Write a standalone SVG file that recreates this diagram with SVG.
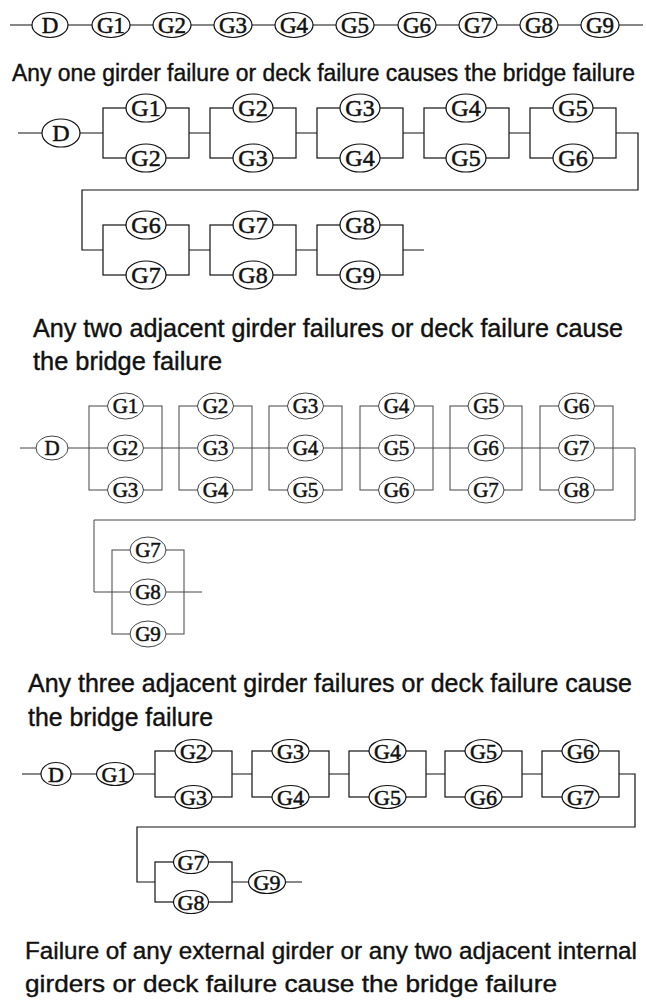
<svg xmlns="http://www.w3.org/2000/svg" width="646" height="1006" viewBox="0 0 646 1006">
<style>
.bg{fill:#fff}
.ln{fill:none;stroke:#111;stroke-width:1.2}
.ln3{fill:none;stroke:#444;stroke-width:1}
.el{fill:#fff;stroke:#111;stroke-width:1.2}
.el3{fill:#fff;stroke:#444;stroke-width:1}
.lb{font-family:"Liberation Serif","Times New Roman",serif;text-anchor:middle;fill:#111;stroke:#111;stroke-width:0.5}
.s1{font-size:23px}
.s2{font-size:24px}
.s3{font-size:21px}
.s4{font-size:22px}
.hd{font-family:"Liberation Sans",Arial,sans-serif;fill:#111;stroke:#111;stroke-width:0.4}
</style>
<rect class="bg" x="0" y="0" width="646" height="1006"/>

<!-- connectors -->
<g id="connectors">
  <!-- section 1 -->
  <path class="ln" d="M10 25 H643"/>
  <!-- section 2 -->
  <path class="ln" d="M18 133 H103 M189 133 H210 M296 133 H317 M403 133 H424 M509 133 H530 M616 133 H638 V190 H82 V250 H103 M189 250 H210 M296 250 H317 M403 250 H424"/>
  <rect class="ln" x="103" y="108" width="86" height="50"/>
  <rect class="ln" x="210" y="108" width="86" height="50"/>
  <rect class="ln" x="317" y="108" width="86" height="50"/>
  <rect class="ln" x="424" y="108" width="85" height="50"/>
  <rect class="ln" x="530" y="108" width="86" height="50"/>
  <rect class="ln" x="103" y="225" width="86" height="50"/>
  <rect class="ln" x="210" y="225" width="86" height="50"/>
  <rect class="ln" x="317" y="225" width="86" height="50"/>
  <!-- section 3 -->
  <path class="ln3" d="M20 448 H635 V520 H94 V592 H202"/>
  <rect class="ln3" x="89" y="406" width="73" height="84"/>
  <rect class="ln3" x="179" y="406" width="73" height="84"/>
  <rect class="ln3" x="269" y="406" width="73" height="84"/>
  <rect class="ln3" x="360" y="406" width="73" height="84"/>
  <rect class="ln3" x="450" y="406" width="72" height="84"/>
  <rect class="ln3" x="540" y="406" width="73" height="84"/>
  <rect class="ln3" x="112" y="550" width="72" height="84"/>
  <!-- section 4 -->
  <path class="ln" d="M22 774 H155 M232 774 H252 M329 774 H349 M426 774 H445 M522 774 H542 M619 774 H635 V827 H137 V882 H155 M232 882 H302"/>
  <rect class="ln" x="155" y="751" width="77" height="46"/>
  <rect class="ln" x="252" y="751" width="77" height="46"/>
  <rect class="ln" x="349" y="751" width="77" height="46"/>
  <rect class="ln" x="445" y="751" width="77" height="46"/>
  <rect class="ln" x="542" y="751" width="77" height="46"/>
  <rect class="ln" x="155" y="862" width="77" height="40"/>
</g>

<!-- section 1 nodes -->
<g id="s1-D"><ellipse class="el" cx="50" cy="25" rx="18" ry="12.5"/><text class="lb s1" x="50" y="33">D</text></g>
<g id="s1-G1"><ellipse class="el" cx="111" cy="25" rx="19" ry="12.5"/><text class="lb s1" x="111" y="33">G1</text></g>
<g id="s1-G2"><ellipse class="el" cx="172" cy="25" rx="19" ry="12.5"/><text class="lb s1" x="172" y="33">G2</text></g>
<g id="s1-G3"><ellipse class="el" cx="233" cy="25" rx="19" ry="12.5"/><text class="lb s1" x="233" y="33">G3</text></g>
<g id="s1-G4"><ellipse class="el" cx="294" cy="25" rx="19" ry="12.5"/><text class="lb s1" x="294" y="33">G4</text></g>
<g id="s1-G5"><ellipse class="el" cx="355" cy="25" rx="19" ry="12.5"/><text class="lb s1" x="355" y="33">G5</text></g>
<g id="s1-G6"><ellipse class="el" cx="417" cy="25" rx="19" ry="12.5"/><text class="lb s1" x="417" y="33">G6</text></g>
<g id="s1-G7"><ellipse class="el" cx="478" cy="25" rx="19" ry="12.5"/><text class="lb s1" x="478" y="33">G7</text></g>
<g id="s1-G8"><ellipse class="el" cx="539" cy="25" rx="19" ry="12.5"/><text class="lb s1" x="539" y="33">G8</text></g>
<g id="s1-G9"><ellipse class="el" cx="600" cy="25" rx="19" ry="12.5"/><text class="lb s1" x="600" y="33">G9</text></g>

<text class="hd" x="12" y="81" font-size="23" textLength="623" lengthAdjust="spacingAndGlyphs">Any one girder failure or deck failure causes the bridge failure</text>

<!-- section 2 nodes -->
<g id="s2-D"><ellipse class="el" cx="61" cy="133" rx="19" ry="14"/><text class="lb s2" x="61" y="141">D</text></g>
<g id="s2-b1-G1"><ellipse class="el" cx="146" cy="108" rx="20" ry="14"/><text class="lb s2" x="146" y="116">G1</text></g>
<g id="s2-b1-G2"><ellipse class="el" cx="146" cy="158" rx="20" ry="14"/><text class="lb s2" x="146" y="166">G2</text></g>
<g id="s2-b2-G2"><ellipse class="el" cx="253" cy="108" rx="20" ry="14"/><text class="lb s2" x="253" y="116">G2</text></g>
<g id="s2-b2-G3"><ellipse class="el" cx="253" cy="158" rx="20" ry="14"/><text class="lb s2" x="253" y="166">G3</text></g>
<g id="s2-b3-G3"><ellipse class="el" cx="360" cy="108" rx="20" ry="14"/><text class="lb s2" x="360" y="116">G3</text></g>
<g id="s2-b3-G4"><ellipse class="el" cx="360" cy="158" rx="20" ry="14"/><text class="lb s2" x="360" y="166">G4</text></g>
<g id="s2-b4-G4"><ellipse class="el" cx="466" cy="108" rx="20" ry="14"/><text class="lb s2" x="466" y="116">G4</text></g>
<g id="s2-b4-G5"><ellipse class="el" cx="466" cy="158" rx="20" ry="14"/><text class="lb s2" x="466" y="166">G5</text></g>
<g id="s2-b5-G5"><ellipse class="el" cx="573" cy="108" rx="20" ry="14"/><text class="lb s2" x="573" y="116">G5</text></g>
<g id="s2-b5-G6"><ellipse class="el" cx="573" cy="158" rx="20" ry="14"/><text class="lb s2" x="573" y="166">G6</text></g>
<g id="s2-b6-G6"><ellipse class="el" cx="146" cy="225" rx="20" ry="14"/><text class="lb s2" x="146" y="233">G6</text></g>
<g id="s2-b6-G7"><ellipse class="el" cx="146" cy="275" rx="20" ry="14"/><text class="lb s2" x="146" y="283">G7</text></g>
<g id="s2-b7-G7"><ellipse class="el" cx="253" cy="225" rx="20" ry="14"/><text class="lb s2" x="253" y="233">G7</text></g>
<g id="s2-b7-G8"><ellipse class="el" cx="253" cy="275" rx="20" ry="14"/><text class="lb s2" x="253" y="283">G8</text></g>
<g id="s2-b8-G8"><ellipse class="el" cx="360" cy="225" rx="20" ry="14"/><text class="lb s2" x="360" y="233">G8</text></g>
<g id="s2-b8-G9"><ellipse class="el" cx="360" cy="275" rx="20" ry="14"/><text class="lb s2" x="360" y="283">G9</text></g>

<text class="hd" x="33" y="337" font-size="25" textLength="590" lengthAdjust="spacingAndGlyphs">Any two adjacent girder failures or deck failure cause</text>
<text class="hd" x="33" y="370" font-size="25" textLength="189" lengthAdjust="spacingAndGlyphs">the bridge failure</text>

<!-- section 3 nodes -->
<g id="s3-D"><ellipse class="el3" cx="52" cy="448" rx="16" ry="12"/><text class="lb s3" x="52" y="455">D</text></g>
<g id="s3-b1-G1"><ellipse class="el3" cx="125.5" cy="406" rx="18" ry="13"/><text class="lb s3" x="125.5" y="413">G1</text></g>
<g id="s3-b1-G2"><ellipse class="el3" cx="125.5" cy="448" rx="18" ry="13"/><text class="lb s3" x="125.5" y="455">G2</text></g>
<g id="s3-b1-G3"><ellipse class="el3" cx="125.5" cy="490" rx="18" ry="13"/><text class="lb s3" x="125.5" y="497">G3</text></g>
<g id="s3-b2-G2"><ellipse class="el3" cx="215.5" cy="406" rx="18" ry="13"/><text class="lb s3" x="215.5" y="413">G2</text></g>
<g id="s3-b2-G3"><ellipse class="el3" cx="215.5" cy="448" rx="18" ry="13"/><text class="lb s3" x="215.5" y="455">G3</text></g>
<g id="s3-b2-G4"><ellipse class="el3" cx="215.5" cy="490" rx="18" ry="13"/><text class="lb s3" x="215.5" y="497">G4</text></g>
<g id="s3-b3-G3"><ellipse class="el3" cx="305.5" cy="406" rx="18" ry="13"/><text class="lb s3" x="305.5" y="413">G3</text></g>
<g id="s3-b3-G4"><ellipse class="el3" cx="305.5" cy="448" rx="18" ry="13"/><text class="lb s3" x="305.5" y="455">G4</text></g>
<g id="s3-b3-G5"><ellipse class="el3" cx="305.5" cy="490" rx="18" ry="13"/><text class="lb s3" x="305.5" y="497">G5</text></g>
<g id="s3-b4-G4"><ellipse class="el3" cx="396.5" cy="406" rx="18" ry="13"/><text class="lb s3" x="396.5" y="413">G4</text></g>
<g id="s3-b4-G5"><ellipse class="el3" cx="396.5" cy="448" rx="18" ry="13"/><text class="lb s3" x="396.5" y="455">G5</text></g>
<g id="s3-b4-G6"><ellipse class="el3" cx="396.5" cy="490" rx="18" ry="13"/><text class="lb s3" x="396.5" y="497">G6</text></g>
<g id="s3-b5-G5"><ellipse class="el3" cx="486" cy="406" rx="18" ry="13"/><text class="lb s3" x="486" y="413">G5</text></g>
<g id="s3-b5-G6"><ellipse class="el3" cx="486" cy="448" rx="18" ry="13"/><text class="lb s3" x="486" y="455">G6</text></g>
<g id="s3-b5-G7"><ellipse class="el3" cx="486" cy="490" rx="18" ry="13"/><text class="lb s3" x="486" y="497">G7</text></g>
<g id="s3-b6-G6"><ellipse class="el3" cx="576.5" cy="406" rx="18" ry="13"/><text class="lb s3" x="576.5" y="413">G6</text></g>
<g id="s3-b6-G7"><ellipse class="el3" cx="576.5" cy="448" rx="18" ry="13"/><text class="lb s3" x="576.5" y="455">G7</text></g>
<g id="s3-b6-G8"><ellipse class="el3" cx="576.5" cy="490" rx="18" ry="13"/><text class="lb s3" x="576.5" y="497">G8</text></g>
<g id="s3-b7-G7"><ellipse class="el3" cx="148" cy="550" rx="18" ry="13"/><text class="lb s3" x="148" y="557">G7</text></g>
<g id="s3-b7-G8"><ellipse class="el3" cx="148" cy="592" rx="18" ry="13"/><text class="lb s3" x="148" y="599">G8</text></g>
<g id="s3-b7-G9"><ellipse class="el3" cx="148" cy="634" rx="18" ry="13"/><text class="lb s3" x="148" y="641">G9</text></g>

<text class="hd" x="28" y="692" font-size="25" textLength="604" lengthAdjust="spacingAndGlyphs">Any three adjacent girder failures or deck failure cause</text>
<text class="hd" x="28" y="726" font-size="25" textLength="185" lengthAdjust="spacingAndGlyphs">the bridge failure</text>

<!-- section 4 nodes -->
<g id="s4-D"><ellipse class="el" cx="56" cy="774" rx="15" ry="11.5"/><text class="lb s4" x="56" y="781.5">D</text></g>
<g id="s4-G1"><ellipse class="el" cx="115" cy="774" rx="18.5" ry="11.5"/><text class="lb s4" x="115" y="781.5">G1</text></g>
<g id="s4-b1-G2"><ellipse class="el" cx="193.5" cy="751" rx="18.5" ry="11.5"/><text class="lb s4" x="193.5" y="758.5">G2</text></g>
<g id="s4-b1-G3"><ellipse class="el" cx="193.5" cy="797" rx="18.5" ry="11.5"/><text class="lb s4" x="193.5" y="804.5">G3</text></g>
<g id="s4-b2-G3"><ellipse class="el" cx="290.5" cy="751" rx="18.5" ry="11.5"/><text class="lb s4" x="290.5" y="758.5">G3</text></g>
<g id="s4-b2-G4"><ellipse class="el" cx="290.5" cy="797" rx="18.5" ry="11.5"/><text class="lb s4" x="290.5" y="804.5">G4</text></g>
<g id="s4-b3-G4"><ellipse class="el" cx="387.5" cy="751" rx="18.5" ry="11.5"/><text class="lb s4" x="387.5" y="758.5">G4</text></g>
<g id="s4-b3-G5"><ellipse class="el" cx="387.5" cy="797" rx="18.5" ry="11.5"/><text class="lb s4" x="387.5" y="804.5">G5</text></g>
<g id="s4-b4-G5"><ellipse class="el" cx="483.5" cy="751" rx="18.5" ry="11.5"/><text class="lb s4" x="483.5" y="758.5">G5</text></g>
<g id="s4-b4-G6"><ellipse class="el" cx="483.5" cy="797" rx="18.5" ry="11.5"/><text class="lb s4" x="483.5" y="804.5">G6</text></g>
<g id="s4-b5-G6"><ellipse class="el" cx="580.5" cy="751" rx="18.5" ry="11.5"/><text class="lb s4" x="580.5" y="758.5">G6</text></g>
<g id="s4-b5-G7"><ellipse class="el" cx="580.5" cy="797" rx="18.5" ry="11.5"/><text class="lb s4" x="580.5" y="804.5">G7</text></g>
<g id="s4-b6-G7"><ellipse class="el" cx="191" cy="862" rx="17.5" ry="11.5"/><text class="lb s4" x="191" y="869.5">G7</text></g>
<g id="s4-b6-G8"><ellipse class="el" cx="191" cy="902" rx="17.5" ry="11.5"/><text class="lb s4" x="191" y="909.5">G8</text></g>
<g id="s4-G9"><ellipse class="el" cx="267" cy="882" rx="18.5" ry="11.5"/><text class="lb s4" x="267" y="889.5">G9</text></g>

<text class="hd" x="25" y="959" font-size="24.5" textLength="612" lengthAdjust="spacingAndGlyphs">Failure of any external girder or any two adjacent internal</text>
<text class="hd" x="25" y="992" font-size="24.5" textLength="532" lengthAdjust="spacingAndGlyphs">girders or deck failure cause the bridge failure</text>
</svg>
